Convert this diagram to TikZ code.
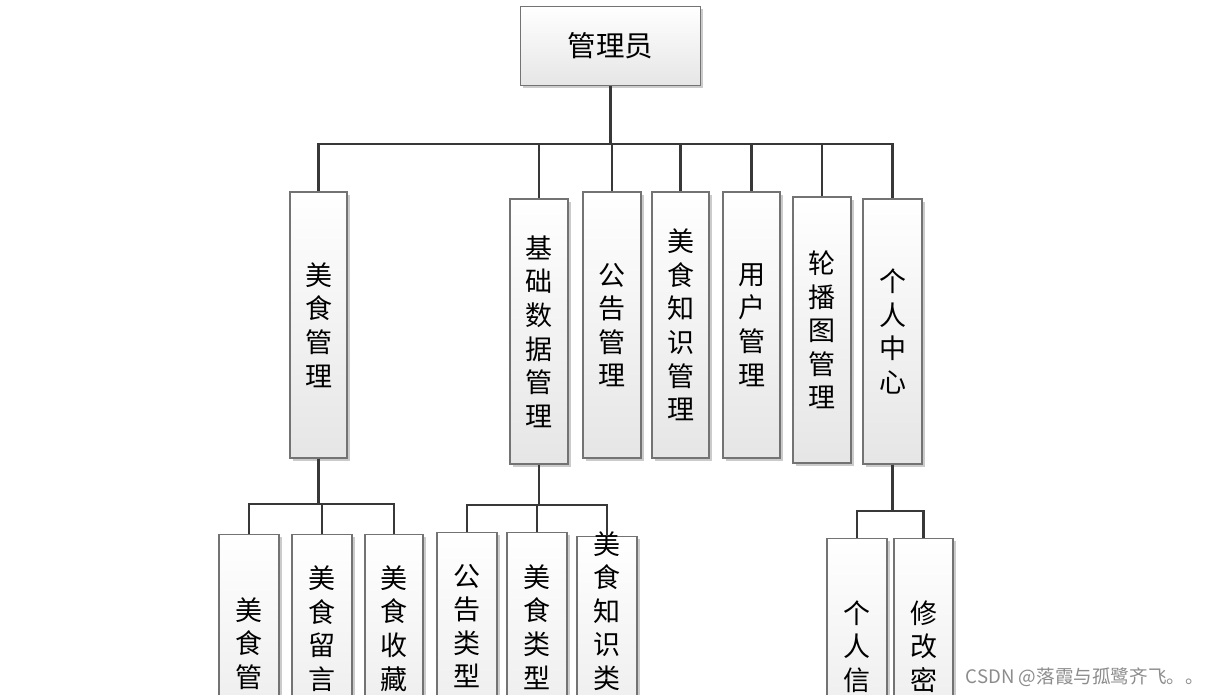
\documentclass[tikz,border=0pt]{standalone}
\usepackage{fontspec}
\setmainfont{Noto Sans CJK SC}
\usetikzlibrary{shadows}
\tikzset{
  box/.style={draw=black!55, line width=1.1pt, top color=white, bottom color=black!10,
    drop shadow={shadow xshift=2.5pt, shadow yshift=-2.5pt, fill=black!40, opacity=0.5},
    inner sep=0pt, align=center, font=\fontsize{27}{33.6}\selectfont},
  lv2/.style={box, minimum width=57pt, minimum height=266pt},
  lv3/.style={box, anchor=north, minimum width=60pt, minimum height=260pt},
  vt/.style={align=center, inner sep=0pt, font=\fontsize{27}{33.6}\selectfont},
  conn/.style={draw=black!78, line width=2.1pt},
}
\begin{document}
\begin{tikzpicture}[x=1pt, y=-1pt]
\useasboundingbox (0,0) rectangle (1218,694);
\clip (0,0) rectangle (1218,694);
\fill[white] (0,0) rectangle (1218,694);

% root
\node[box, minimum width=180pt, minimum height=79pt, font=\fontsize{28.5}{30}\selectfont] (root) at (610.5,46) {管理员};

% level 2
\node[lv2] (m1) at (318.5,325) {美\\食\\管\\理};
\node[lv2, minimum width=58pt, minimum height=265pt] (m2) at (539,331.5) {基\\础\\数\\据\\管\\理};
\node[lv2, minimum width=58pt] (m3) at (612,325) {公\\告\\管\\理};
\node[lv2] (m4) at (680.5,325) {美\\食\\知\\识\\管\\理};
\node[lv2] (m5) at (751.5,325) {用\\户\\管\\理};
\node[lv2, minimum width=58pt] (m6) at (822,330) {轮\\播\\图\\管\\理};
\node[lv2, minimum width=59pt, minimum height=265pt] (m7) at (892.5,331.5) {个\\人\\中\\心};

% level 3 boxes
\node[lv3] (a1) at (249,534) {};
\node[lv3] (a2) at (322,534) {};
\node[lv3, minimum width=58pt] (a3) at (394,534) {};
\node[lv3] (b1) at (467,532) {};
\node[lv3] (b2) at (537,532) {};
\node[lv3] (b3) at (607,536) {};
\node[lv3] (c1) at (857,538) {};
\node[lv3, minimum width=59pt] (c2) at (923.5,538) {};

% level 3 texts
\node[vt] (ta1) at (249,643.5) {美\\食\\管};
\node[vt] (ta2) at (322,628.5) {美\\食\\留\\言};
\node[vt] (ta3) at (394,628.5) {美\\食\\收\\藏};
\node[vt] (tb1) at (467,626) {公\\告\\类\\型};
\node[vt] (tb2) at (537,627) {美\\食\\类\\型};
\node[vt] (tb3) at (607,611) {美\\食\\知\\识\\类};
\node[vt] (tc1) at (857,646.5) {个\\人\\信};
\node[vt] (tc2) at (923.5,646.5) {修\\改\\密};

% connectors level 1 -> 2
\foreach \c in {m1,m2,m3,m4,m5,m6,m7}
  \draw[conn] (root.south) -- ++(0,58) -| (\c.north);

% connectors level 2 -> 3
\foreach \c in {a1,a2,a3}
  \draw[conn] (m1.south) -- ++(0,45) -| (\c.north);
\foreach \c in {b1,b2,b3}
  \draw[conn] (m2.south) -- ++(0,40) -| (\c.north);
\foreach \c in {c1,c2}
  \draw[conn] (m7.south) -- ++(0,46) -| (\c.north);

% watermark
\node[anchor=east, text=black!45, inner sep=0pt, font=\fontsize{18.6}{22}\selectfont] (wm) at (1204,677) {CSDN @落霞与孤鹭齐飞。。};
\end{tikzpicture}
\end{document}
